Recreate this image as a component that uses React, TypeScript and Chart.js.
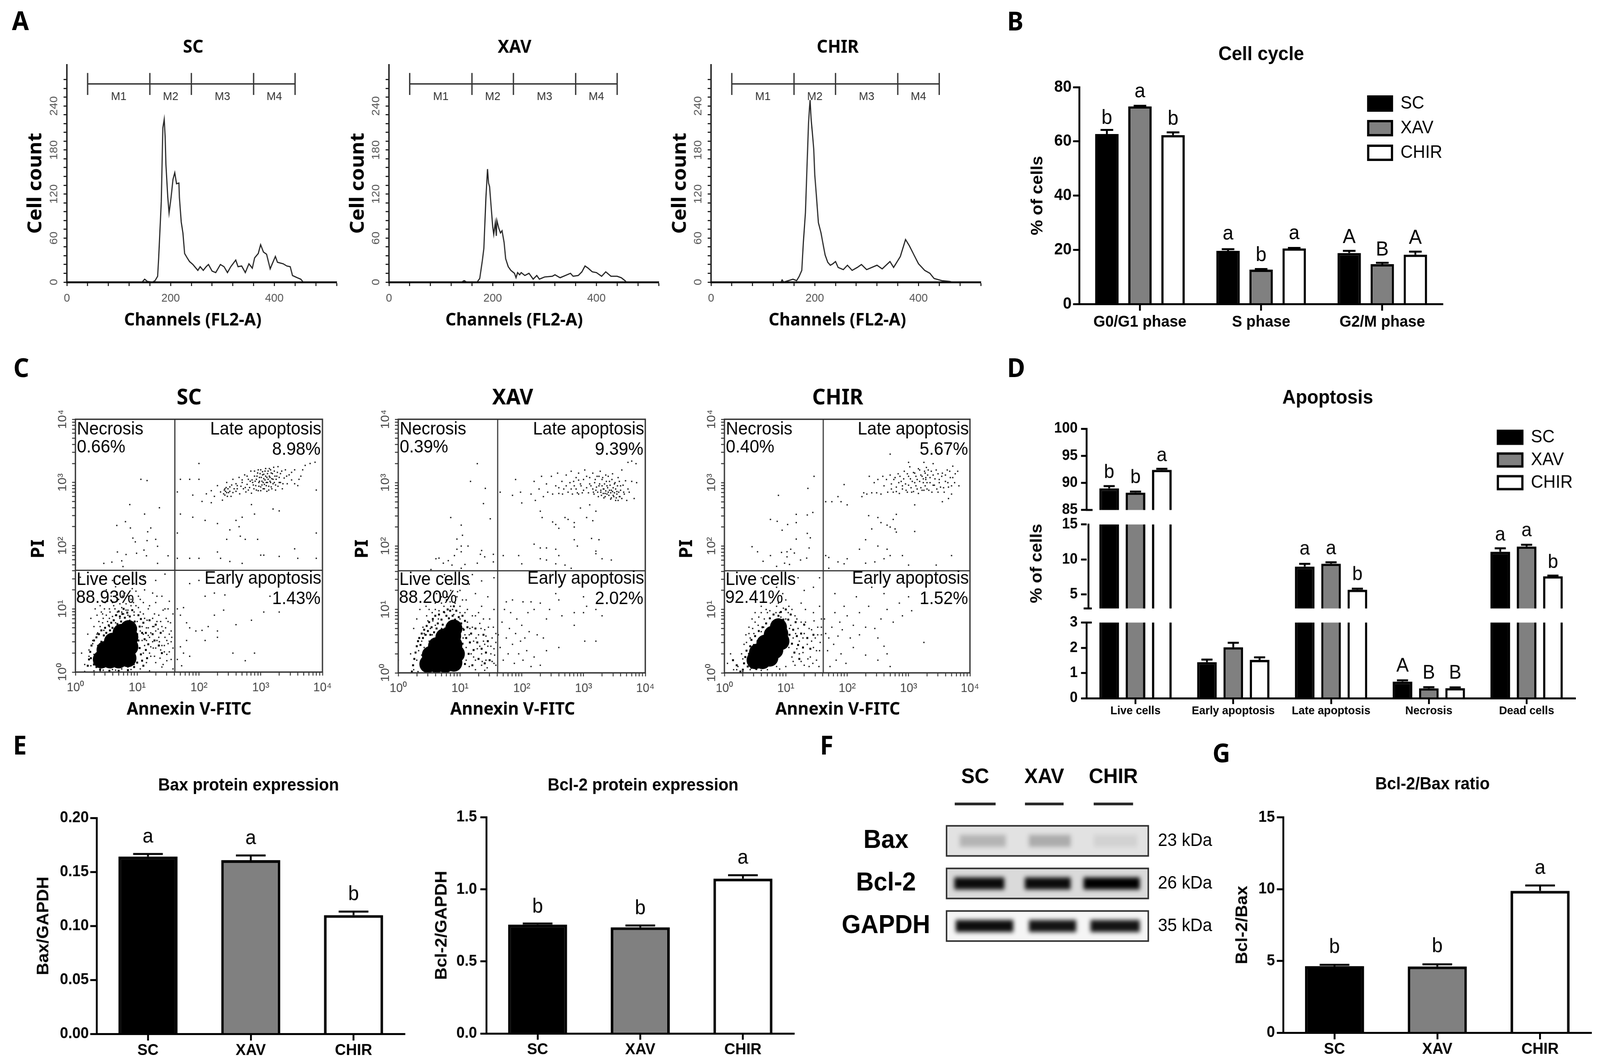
import React, { useEffect, useRef } from 'react';
import { Chart, registerables, LinearScale } from 'chart.js';

// ---------- Panel A: histograms [channel, count, ...]
const histSC = [0,0,145,0,150,4,155,1,165,0,170,2,175,8,177,33,182,110,185,210,187.7,222,189.5,198,191,160,194.5,116,197,94,201,116,204.6,140,208,149,211.4,134,216,135,217,115,220.5,82,223.7,67,227,39,232,33,236.5,28,243,24,252.5,16,257,21,263,16,268.5,21,273,24,280,15,287,13,296,24,303,21,309.6,13,316,21,325.6,30,330,21,337,22,344,13,351,25,357.5,19,362,33,369,39,373.5,51,379,41,385,38,392,18,396,25,402,35,406,27,417,25,424,22,430.6,21,435,9,444,6,451,4,455.7,0,520,0];
const histXAV = [0,0,140,0,145,2,150,0,170,0,175,5,180,29,183,46,185,81,187,116,190,154,192,135,194,130,197,103,200,76,202,65,205,81,207,63,208,84,212,73,215,67,218,70,220,62,222,54,225,32,230,21,235,16,242,12,245,6,248,13,252,10,255,13,262,9,270,12,278,4,285,9,290,4,300,7,315,8,320,10,330,6,340,9,350,12,355,8,365,9,372,14,378,22,384,19,392,14,400,13,410,8,418,14,428,8,440,8,448,6,455,2,458,0,520,0];
const histCHIR = [0,0,135,0,137,3,140,0,158,4,165,2,170,8,175,16,178,54,182,95,185,157,188,217,190,239,191,248,193,222,196,198,198,181,200,146,203,119,207,81,212,67,217,48,220,37,225,27,230,23,235,25,240,28,245,20,255,17,263,23,272,16,282,20,290,24,300,17,310,20,320,23,330,18,345,28,352,20,365,35,375,58,382,50,392,36,400,25,412,16,422,12,430,5,445,2,460,1,465,0,520,0];
const gateEdges = [40, 160, 240, 360, 440];
const gateNames = ['M1', 'M2', 'M3', 'M4'];
const groups = ['SC', 'XAV', 'CHIR'];

// ---------- Panel B
const phases = ['G0/G1 phase', 'S phase', 'G2/M phase'];
const cycleSC = [62.7, 19.6, 18.8];
const cycleXAV = [72.9, 12.7, 14.7];
const cycleCHIR = [62.3, 20.5, 18.2];
const cycleErrSC = [1.5, 0.6, 0.8];
const cycleErrXAV = [0.2, 0.2, 0.5];
const cycleErrCHIR = [1.0, 0.2, 1.1];
const cycleLetSC = ['b', 'a', 'A'];
const cycleLetXAV = ['a', 'b', 'B'];
const cycleLetCHIR = ['b', 'a', 'A'];
const cycleLetAtSC = [66.4, 23.8, 22.5];
const cycleLetAtXAV = [76.3, 15.9, 17.9];
const cycleLetAtCHIR = [66.2, 24, 22.2];

// ---------- Panel C: dots as [log10 annexin, log10 PI, ...]
const quadrantLog = 1.61;
const dotsSC = [1.06,3.05,1.16,3.03,.88,2.65,1.36,2.6,1.12,2.5,.67,2.32,.81,2.38,.89,2.28,1.22,2.28,1.17,2.22,.93,2.12,.97,2.06,1.16,2.08,1.3,2.1,1.33,1.99,.68,1.9,.82,1.86,.99,1.88,1.11,1.93,1.15,1.84,1.5,1.84,.46,1.72,.59,1.74,.75,1.76,.77,1.67,1.33,1.72,
2.12,2.82,2.2,2.87,2.25,2.78,2.3,2.95,2.35,2.85,2.38,2.72,2.42,2.9,2.45,3,2.48,2.84,2.5,2.93,2.52,2.78,2.55,3.05,2.57,2.9,2.6,2.86,2.62,2.95,2.65,3.08,2.66,2.82,2.7,3,2.72,2.9,2.74,3.12,2.76,2.85,2.78,2.97,2.8,3.05,2.82,2.92,2.84,3.18,2.85,2.83,2.87,3,2.89,2.9,2.9,3.1,2.92,2.95,2.93,3.05,2.95,3.15,2.96,2.87,2.97,3,2.98,3.08,3,2.93,3,3.2,3.02,3.02,3.03,3.12,3.04,2.9,3.05,3.06,3.06,2.97,3.07,3.18,3.08,3.1,3.09,3,3.1,2.86,3.11,3.14,3.12,3.05,3.13,2.94,3.14,3.22,3.15,3.08,3.16,3,3.17,3.15,3.18,2.9,3.2,3.05,3.22,3.18,3.24,2.96,3.26,3.1,3.28,3.25,3.3,3,3.32,3.14,3.35,2.9,3.38,3.07,3.4,3.2,3.43,2.98,3.46,3.12,3.5,3.04,3.55,3.2,3.6,2.95,3.65,3.1,3.72,3.27,3.8,3.3,3.88,3.32,3.9,2.88,
1.65,2.85,1.7,3.05,1.85,3.05,1.9,2.8,2,3.05,2,3.3,2.05,2.7,2.2,2.68,2.3,2.35,2.5,2.25,2.45,2.1,2.6,2.4,2.65,2.3,2.67,2.15,2.7,2.45,2.75,2.1,2.9,2.5,2.85,2.65,2.95,2.1,3,1.85,3.05,1.85,3.3,1.83,3.55,1.95,3.6,1.8,3.9,2.2,2.3,1.9,2.35,1.8,2.5,1.75,1.65,2.2,1.7,2.5,1.9,2.45,2.1,2.4,3.2,2.58,3.3,2.55,1.65,1.8,1.85,1.8,2,1.8,2.7,1.72,3.9,1.8,
1.65,1,1.7,.9,1.75,1.02,1.8,.78,1.85,.7,1.95,.65,2.05,.66,2.15,.72,2.3,.65,2.1,.5,1.7,.4,1.75,.3,1.85,.25,1.65,.2,1.72,.1,1.8,.5,2.1,1.2,2.25,.9,2.25,1.25,2.42,1.22,2.4,.98,2.3,.55,2.55,.3,2.6,.75,2.85,.82,2.9,.3,2.75,.18,3.05,.95,3.3,.95,3.15,1.2,2,1.45,1.85,1.4,
.1,.3,.15,.12,.2,.6,.22,.35,.25,.1,.25,.85,.28,.5,.3,.72,.32,1,.35,.9,.36,.62,.38,.8,.4,1.05,.42,.95,.44,.78,.46,.66,.48,1.1,.5,.9,.5,1.3,.52,.8,.55,1,.55,.72,.58,1.2,.6,.88,.62,1.05,.65,.78,.65,1.35,.68,.95,.7,1.15,.72,.85,.75,1.02,.78,.92,.8,1.25,.82,1.08,.85,.98,.88,.82,.9,1.15,.92,1.32,.95,.9,.98,1.05,1,.8,1.02,1.2,1.05,.95,1.05,.65,1.08,.5,1.1,1.1,1.1,.3,1.12,.85,1.15,.7,1.15,.15,1.18,1,1.2,.55,1.22,.4,1.25,.85,1.25,1.25,1.28,.25,1.3,.65,1.3,1.1,1.32,.5,1.35,.9,1.38,.35,1.4,.72,1.4,1.2,1.42,.12,1.45,.55,1.45,1,1.48,.28,1.5,.8,1.5,.45,1.52,1.12,1.55,.65,1.55,.2,1.58,.38,1.58,.92,.6,1.45,.72,1.52,.95,1.4,1.1,1.5,1.3,1.45,1.45,1.55,.05,1.2,.08,1.5,.95,.12,1.05,.05,.85,.08,.75,.05,.6,.04,.45,.03,.3,.02,.15,.01,
1.1,.6,1.12,.42,1.15,.5,1.18,.7,1.2,.3,1.22,.62,1.25,.48,1.27,.72,1.3,.38,1.32,.8,1.35,.55,1.37,.22,1.4,.42,1.42,.65,1.44,.32,1.47,.85,1.48,.5,1.52,.6,1.55,.48,.95,.95,.85,.9,.75,.95,.65,.9,.55,.85,.45,.85,.35,.6,.28,.45,.22,.25,.3,.15,.3,.28];
const moreSC = [2.86,3.04,2.88,2.96,2.9,3.18,2.91,3.02,2.93,2.88,2.94,3.1,2.96,3.2,2.97,2.94,2.98,3.02,2.99,3.14,3,2.87,3.01,3.08,3.02,2.96,3.03,3.17,3.04,3,3.05,3.13,3.06,2.9,3.07,3.04,3.08,3.22,3.09,2.95,3.1,3.08,3.11,3,3.12,3.18,3.13,2.88,3.14,3.1,3.15,3.02,3.16,3.2,3.17,2.93,3.18,3.06,3.19,3.14,3.2,2.98,3.21,3.24,3.22,3,3.23,3.1,3.24,2.88,3.25,3.05,3.27,3.16,3.28,2.94,3.3,3.08,3.32,3,3.34,3.18,3.36,2.98,2.4,2.82,2.41,2.88,2.42,2.8,2.43,2.86,2.44,2.92,2.45,2.84,2.46,2.78,2.47,2.9,2.5,2.86,2.53,2.96,2.55,2.84,2.6,2.98,2.62,2.9,2.68,2.94,2.7,3.04,2.75,2.92,2.78,3.1,2.8,2.88,2.83,3.02,3.42,3.1,3.5,3.16,3.55,2.98,3.62,3.05,3.68,3.2,
.33,.18,.36,.42,.4,.72,.44,.92,.47,1,.52,1.12,.56,.95,.6,1.1,.64,1,.68,1.22,.72,1.08,.76,1.2,.82,.98,.86,1.2,.9,1.05,.94,1.1,.98,1.28,1.02,1.02,1.05,1.15,1.08,.72,1.1,.92,1.12,1.3,1.16,.82,1.18,.58,1.2,1.05,1.22,.25,1.25,.72,1.26,.38,1.28,.92,1.3,.15,1.32,1.2,1.34,.68,1.36,.48,1.38,.8,1.4,.08,1.42,.98,1.44,.42,1.46,.7,1.48,.18,1.5,1,1.52,.32,1.54,.78,1.56,.55,.4,.02,.65,.03,.9,.04,1.2,.02,1.58,.05];
const haloSC = [.2,.1,.22,.2,.24,.32,.26,.42,.3,.5,.34,.08,.34,.55,.38,.6,.42,.48,.42,.66,.46,.58,.48,.7,.5,.62,.52,.5,.54,.74,.56,.66,.58,.78,.6,.7,.62,.82,.64,.62,.66,.9,.68,.76,.7,.96,.72,.88,.74,.8,.76,.92,.78,1,.8,.86,.84,.94,.88,.88,.92,.98,.96,.8,.98,.7,1,.6,1.02,.5,1.02,.9,1.04,.38,1.04,.72,1.06,.28,1.06,.84,1.08,.18,1.08,.62,1.1,.78,1.12,.52,1.14,.35,1.14,.62,1.16,.22,1.18,.44,1.2,.82,.95,.08,.85,.03,.7,.02,.55,.02,.4,.04,.3,.12,.25,.22,1,.15,1.1,.1,1.25,.6,1.28,.5,1.3,.75,1.35,.42,1.38,.62,1.4,.3];
const coreSC = [.42,.2,.56,.2,.7,.2,.85,.22,.48,.35,.62,.35,.76,.36,.88,.4,.6,.48,.74,.5,.88,.55,.74,.62,.86,.68];
const dotsXAV = [1.28,3.3,1.17,3.02,1.41,2.91,1.38,2.67,.85,2.45,1.49,2.43,1.02,2.33,.95,2.11,1.04,2.17,1.13,2,1.02,2,.95,1.95,1.02,1.91,.91,1.85,1.35,1.93,1.33,1.87,1.4,1.83,1.54,1.87,.66,1.81,.61,1.8,.81,1.77,.73,1.73,.87,1.7,1.08,1.71,1.28,1.73,1.54,1.75,.53,1.63,1.02,1.65,
2.15,2.82,2.2,3.02,2.22,2.72,2.28,2.9,2.32,3.1,2.35,2.78,2.4,2.98,2.42,2.85,2.48,3.1,2.5,2.82,2.55,2.95,2.58,3.15,2.6,2.83,2.65,3.02,2.68,2.9,2.72,3.12,2.75,2.85,2.78,3,2.8,3.18,2.82,2.82,2.85,2.95,2.88,3.08,2.9,2.84,2.92,3.15,2.95,2.98,2.98,2.84,3,3.05,3.02,3.2,3.05,2.92,3.08,2.84,3.1,3.08,3.12,2.95,3.15,3.15,3.16,2.85,3.18,3,3.2,2.88,3.22,3.1,3.24,2.78,3.25,2.95,3.27,3.18,3.28,2.85,3.3,3.05,3.32,2.9,3.33,2.76,3.35,2.83,3.36,3.12,3.38,2.95,3.4,2.85,3.42,3.02,3.44,2.74,3.45,2.88,3.47,3.14,3.48,2.8,3.5,2.98,3.52,2.72,3.54,2.86,3.56,3.08,3.58,2.78,3.6,2.95,3.62,3.2,3.65,2.85,3.68,3.03,3.72,2.9,3.78,3.02,3.82,2.75,3.86,3,3.72,3.32,3.78,3.34,3.85,3.3,
1.65,2.85,1.9,3.05,1.85,2.8,1.98,2.85,2,2.68,2.3,2.55,2.33,2.45,2.5,2.38,2.55,2.34,2.6,2.28,2.7,2.45,2.75,2.42,2.85,2.37,2.85,2.3,2.95,2.6,3.05,2.45,3.1,2.65,3.15,2.4,3.2,2.55,2.2,2.03,2.3,1.97,2.4,1.97,2.55,1.95,2.6,1.85,2.85,2.1,2.9,2,3.13,2.12,3.2,1.88,3.25,2.1,3.2,1.92,3.3,1.8,3.45,1.78,2,1.72,2.3,1.8,2.4,1.78,2.55,1.72,2.7,1.7,2.8,1.65,1.95,1.85,1.7,1.85,
1.62,.6,1.65,.4,1.68,.8,1.7,.2,1.72,1,1.75,.55,1.78,.3,1.8,.7,1.82,.95,1.85,.45,1.88,.15,1.9,.62,1.92,.85,1.95,.3,1.98,.5,2,.75,2.02,.2,2.05,.55,2.08,.35,2.1,.95,2.12,.65,2.15,.1,2.2,1,2.25,.6,2.3,.12,2.2,.25,2.35,.55,2.4,.85,2.45,1,2.4,.35,2.3,1.1,2.15,1.12,2.02,1.12,1.75,1.12,1.85,1.15,2.6,.4,2.6,1.15,2.65,.9,2.85,.95,2.85,.75,3,1.2,3,.95,3.02,.5,3.05,1.05,3.2,1,3.3,.9,3.2,.5,2.55,1.25,
.25,.05,.3,.2,.33,.35,.36,.1,.38,.5,.4,.72,.42,.4,.45,.6,.48,.82,.5,.5,.52,.7,.55,.95,.55,.6,.6,.75,.6,1,.65,.85,.7,1.1,.7,.7,.75,.95,.8,1.2,.82,.8,.85,1.05,.9,.92,.95,1.2,1,.85,1,1.05,1.05,.7,1.05,.55,1.08,.95,1.1,.4,1.1,.2,1.12,.8,1.15,.6,1.15,.1,1.18,.3,1.2,.72,1.22,.5,1.25,.9,1.25,.2,1.28,.38,1.3,.6,1.32,.78,1.35,.3,1.35,.12,1.38,.5,1.4,.68,1.42,.2,1.45,.42,1.48,.85,1.5,.3,1.52,.55,1.55,.15,1.55,.38,1.58,.62,.3,.85,.35,1,.25,.7,.2,.3,0,.2,.45,1.05,.62,1.25,.85,1.3,.9,1.4,1,1.3,1.1,1.15,1.15,1.4,1.25,1.25,1.35,1.05,1.35,1.45,1.45,1.2,1.55,1,1.55,1.5,1.2,1.55,.75,1.55,.6,.05,.75,.05,.9,.05];
const moreXAV = [3.15,2.9,3.17,2.82,3.19,3.05,3.21,2.93,3.23,2.85,3.25,3.1,3.26,2.98,3.28,2.88,3.29,2.8,3.3,2.95,3.31,3.08,3.32,2.83,3.33,2.9,3.34,2.98,3.35,2.78,3.36,2.87,3.37,3.02,3.38,2.82,3.39,2.92,3.4,3.1,3.41,2.8,3.42,2.88,3.43,2.96,3.44,2.84,3.45,2.76,3.46,3.05,3.47,2.86,3.48,2.92,3.49,2.78,3.5,2.84,3.51,3,3.52,2.9,3.53,2.76,3.54,2.82,3.55,2.95,3.56,2.72,3.57,2.85,3.58,3.02,3.59,2.78,3.6,2.88,3.62,2.75,3.64,2.96,3.66,2.82,3.7,2.72,3.74,2.85,3,2.88,2.96,2.95,2.92,3.04,2.88,2.9,2.84,3.02,2.8,2.9,2.72,2.95,2.66,2.82,2.6,2.92,3.05,3.1,3.1,2.98,2.92,2.82,
.32,.02,.38,.28,.42,.62,.46,.9,.5,1,.56,.82,.6,1.1,.66,.98,.7,1.2,.74,1.05,.78,1.15,.84,1.12,.88,1,.92,1.1,.96,1.28,1,.95,1.04,1.15,1.08,.6,1.12,1,1.16,.7,1.2,.9,1.22,.25,1.26,.55,1.3,.95,1.32,.42,1.34,.7,1.36,.18,1.38,.85,1.4,.45,1.42,.58,1.44,.08,1.46,.72,1.5,.42,1.52,.18,1.54,.72,1.56,.28,1.58,.48,1.58,.12,1.25,.05,1.4,.04,.5,.02];
const haloXAV = [.22,.02,.24,.12,.26,.22,.28,.32,.3,.42,.32,.5,.34,.55,.36,.44,.38,.62,.4,.55,.42,.68,.44,.6,.46,.74,.48,.66,.5,.8,.52,.6,.54,.72,.56,.85,.58,.64,.6,.9,.62,.7,.64,.78,.66,.92,.68,.6,.7,.84,.72,.76,.74,.96,.76,.7,.78,.9,.8,1,.82,.86,.84,.98,.86,.78,.88,.9,.9,1.05,.92,.84,.94,.98,.96,.7,.98,.88,1,.6,1.02,.78,1.04,.46,1.04,.9,1.06,.3,1.06,.68,1.08,.14,1.08,.82,1.1,.55,1.12,.72,1.14,.3,1.16,.48,1.18,.62,1.2,.12,1.22,.36,1.25,.7,1.28,.48,1.3,.22,1.35,.38,1.38,.6,1.4,.15,1.42,.32,1.45,.5,1.48,.2];
const coreXAV = [.48,.14,.62,.14,.76,.14,.9,.16,.52,.28,.66,.28,.8,.28,.94,.3,.62,.42,.76,.42,.9,.44,.74,.56,.88,.58,.9,.7];
const dotsCHIR = [1.46,3.1,1.36,2.91,.88,2.8,1.44,2.53,1.35,2.49,1.17,2.5,.75,2.42,.86,2.39,1.17,2.37,1.03,2.34,.94,2.25,1.35,2.2,1.4,2.13,1.17,2.11,.45,1.99,1.38,1.97,.54,1.91,1.08,1.95,1.02,1.91,.93,1.9,1.14,1.89,.75,1.85,1.02,1.83,1.34,1.81,1.24,1.78,.63,1.76,.98,1.73,1.06,1.71,.85,1.68,
2.24,2.78,2.27,2.84,2.32,2.82,2.36,3.1,2.4,2.84,2.44,3,2.48,2.84,2.5,3.05,2.55,2.82,2.58,3.1,2.6,2.95,2.64,3.05,2.66,2.85,2.7,3.12,2.72,2.98,2.75,2.85,2.78,3.08,2.8,2.93,2.83,3.14,2.85,2.83,2.88,3.02,2.9,2.9,2.93,3.18,2.95,2.98,2.98,2.85,3,3.1,3.02,3.25,3.04,2.92,3.06,3.02,3.08,2.86,3.1,3.15,3.12,2.95,3.14,3.05,3.16,2.83,3.18,3.2,3.2,2.92,3.22,3.1,3.24,3,3.25,2.88,3.27,3.15,3.28,3.05,3.3,2.9,3.32,3.2,3.35,3,3.38,2.85,3.4,3.12,3.42,2.96,3.45,3.2,3.48,2.85,3.5,3.05,3.52,2.93,3.55,3.15,3.58,2.85,3.6,3.02,3.63,3.2,3.65,2.93,3.68,3.08,3.7,2.82,3.72,3.26,3.75,3,3.8,3.18,3.82,2.95,3.65,2.75,3.55,2.7,3.4,3.3,3.25,3.32,3,3.32,2.7,3.45,
1.65,2.7,1.75,2.7,1.85,2.78,1.9,2.7,2,2.65,1.95,2.97,2.35,2.48,2.4,2.27,2.5,2.45,2.55,2.37,2.65,2.33,2.7,2.3,2.75,2.42,2.8,2.5,2.8,2.22,2.78,2.27,3.1,2.65,3.1,2.23,2.3,2.1,2.2,1.95,2.5,2,2.65,1.95,2.7,1.85,2.6,1.8,2.45,1.75,2.3,1.73,2,1.8,1.95,1.72,1.85,1.75,1.7,1.82,1.65,1.85,1.7,1.65,2.9,1.85,3,1.7,3.7,1.85,3.45,1.7,
1.63,.85,1.65,.62,1.68,.35,1.7,.55,1.72,.1,1.75,.72,1.78,.45,1.8,.95,1.82,.2,1.85,.58,1.88,.8,1.9,.3,1.92,.68,1.95,1.05,1.98,.15,2,.9,2.05,.55,2.1,.75,2.15,1.2,2.2,.6,2.1,.4,2.2,.95,2.3,.72,2.3,.28,2.35,1.05,2.45,.7,2.5,.55,2.5,.2,2.55,.85,2.6,.42,2.65,.3,2.75,.8,2.7,.1,2.9,.9,2.85,1.1,3.05,.98,3,1.2,3.25,.48,2.65,1,2.6,1.25,1.8,1.25,2.4,1.35,
.05,.15,.1,.3,.15,.05,.22,.1,.28,.3,.32,.45,.35,.6,.38,.18,.4,.72,.42,.55,.45,.85,.48,.62,.5,.95,.55,.75,.6,.65,.6,1.05,.65,.85,.7,.95,.7,.62,.75,1.1,.78,.8,.85,1.05,.9,.95,.95,1.25,1,.85,1.02,.62,1.05,1.05,1.05,.4,1.08,.75,1.1,.25,1.12,.55,1.15,.9,1.15,.12,1.18,.38,1.2,.7,1.22,.5,1.25,.18,1.25,1.1,1.28,.32,1.3,.62,1.32,.8,1.35,.45,1.38,.1,1.4,.25,1.42,.68,1.45,.95,1.45,.4,1.48,.55,1.5,.2,1.52,.72,1.55,.35,1.55,1.05,1.58,.6,1.58,.85,.7,.05,.85,.1,.55,.08,.42,.05,.3,.02,1.3,1.3,1.45,1.35,1.55,1.5,1.2,1.5,.85,1.35,.5,1.15,.6,1.5,1,1.5];
const moreCHIR = [2.72,2.9,2.76,3.05,2.8,2.86,2.84,3,2.86,3.1,2.9,2.95,2.92,3.06,2.96,2.88,2.98,3.14,3,2.96,3.03,3.06,3.05,2.85,3.08,3.16,3.1,3,3.12,3.1,3.14,2.9,3.16,3.22,3.18,3.02,3.2,3.12,3.22,2.88,3.24,3.06,3.26,3.18,3.27,2.95,3.28,3.08,3.29,3.24,3.3,3,3.31,3.12,3.33,2.88,3.35,3.08,3.37,3.18,3.4,2.96,3.43,3.06,3.46,2.9,3.48,3.14,3.5,3,3.54,3.1,3.57,2.92,3.6,3.12,3.64,3,3.67,3.18,3.7,2.95,3.72,3.08,3.76,3.14,
.2,.05,.3,.22,.36,.48,.4,.62,.46,.7,.5,.8,.56,.88,.6,.95,.64,.72,.68,1,.74,.98,.8,1.15,.84,.95,.88,1.1,.92,.88,.96,1.02,1,1.15,1.04,.95,1.06,.7,1.1,1,1.12,.18,1.16,.62,1.18,.85,1.22,.3,1.25,.8,1.28,.55,1.3,.12,1.32,1,1.36,.22,1.38,.7,1.42,.5,1.44,.15,1.46,.82,1.5,.35,1.52,.6,1.54,.1,1.56,.48,1.58,.72,.9,.06,1,.1,.6,.04];
const haloCHIR = [.3,.05,.32,.15,.34,.25,.36,.35,.38,.1,.4,.3,.42,.42,.44,.08,.44,.52,.48,.44,.5,.58,.52,.06,.54,.5,.56,.66,.58,.1,.6,.56,.62,.72,.64,.12,.66,.6,.68,.78,.7,.14,.72,.68,.74,.86,.76,.16,.78,.74,.8,.92,.82,.18,.84,.82,.86,.24,.88,.9,.9,.3,.92,.96,.94,.36,.96,.84,.98,.4,1,.72,1,1,1.02,.5,1.04,.84,1.06,.6,1.08,.92,1.1,.46,1.12,.68,1.14,.32,1.16,.8,1.18,.58,1.2,.44,1.22,.22,1.25,.62,1.28,.4,1.3,.76,1.35,.55,1.4,.38,1.45,.6,.26,.02,.2,.12,.14,.2];
const coreCHIR = [.5,.2,.62,.2,.74,.24,.54,.32,.68,.34,.82,.36,.66,.46,.8,.48,.92,.5,.78,.6,.9,.62,.88,.72];
const quadSC = ['Necrosis', '0.66%', 'Late apoptosis', '8.98%', 'Live cells', '88.93%', 'Early apoptosis', '1.43%'];
const quadXAV = ['Necrosis', '0.39%', 'Late apoptosis', '9.39%', 'Live cells', '88.20%', 'Early apoptosis', '2.02%'];
const quadCHIR = ['Necrosis', '0.40%', 'Late apoptosis', '5.67%', 'Live cells', '92.41%', 'Early apoptosis', '1.52%'];
const logMajor: Record<number, string> = { 1: '10⁰', 10: '10¹', 100: '10²', 1000: '10³', 10000: '10⁴' };
const logTicks = [1,2,3,4,5,6,7,8,9,10,20,30,40,50,60,70,80,90,100,200,300,400,500,600,700,800,900,1000,2000,3000,4000,5000,6000,7000,8000,9000,10000];

// ---------- Panel D
const apoCats = ['Live cells', 'Early apoptosis', 'Late apoptosis', 'Necrosis', 'Dead cells'];
const apoSC = [89.0, 1.43, 8.98, 0.66, 11.1];
const apoXAV = [88.2, 2.02, 9.39, 0.39, 11.85];
const apoCHIR = [92.41, 1.52, 5.67, 0.40, 7.6];
const apoErrSC = [0.4, 0.1, 0.4, 0.05, 0.5];
const apoErrXAV = [0.2, 0.18, 0.2, 0.05, 0.25];
const apoErrCHIR = [0.2, 0.1, 0.15, 0.03, 0.1];
const apoLetSC = ['b', '', 'a', 'A', 'a'];
const apoLetXAV = ['b', '', 'a', 'B', 'a'];
const apoLetCHIR = ['a', '', 'b', 'B', 'b'];
const apoLetAtSC = [90.9, 0, 10.66, 1.05, 12.7];
const apoLetAtXAV = [90.0, 0, 10.75, 0.77, 13.3];
const apoLetAtCHIR = [94.0, 0, 7.05, 0.77, 8.8];
const apoTicks = [0, 1, 2, 3, 5, 10, 15, 85, 90, 95, 100];
const brokenSegments = [
  { from: 0, to: 3, f0: 0, f1: 0.2807 },
  { from: 3, to: 15, f0: 0.333, f1: 0.6447 },
  { from: 15, to: 85, f0: 0.6447, f1: 0.6984 },
  { from: 85, to: 100, f0: 0.6984, f1: 1 },
];

// ---------- Panels E, G
const baxValues = [0.1642, 0.1609, 0.110];
const baxErr = [0.0024, 0.0043, 0.0032];
const baxLetters = ['a', 'a', 'b'];
const baxLetterAt = [0.1772, 0.1756, 0.1239];
const bclValues = [0.755, 0.736, 1.074];
const bclErr = [0.008, 0.013, 0.024];
const bclLetters = ['b', 'b', 'a'];
const bclLetterAt = [0.839, 0.828, 1.178];
const ratioValues = [4.63, 4.61, 9.88];
const ratioErr = [0.1, 0.15, 0.37];
const ratioLetters = ['b', 'b', 'a'];
const ratioLetterAt = [5.55, 5.6, 11.07];

// ---------- Panel F: band extents in lane units, [start, end] per protein row
const blotRows = ['Bax', 'Bcl-2', 'GAPDH'];
const blotKda = ['23 kDa', '26 kDa', '35 kDa'];
const bandSC = [[-0.22, 0.44], [-0.3, 0.42], [-0.28, 0.55]];
const bandXAV = [[0.78, 1.38], [0.72, 1.38], [0.78, 1.46]];
const bandCHIR = [[1.72, 2.34], [1.57, 2.38], [1.67, 2.38]];
const bandAlphaSC = [0.2, 0.95, 0.95];
const bandAlphaXAV = [0.24, 0.95, 0.92];
const bandAlphaCHIR = [0.07, 1, 0.92];
const blotBackground = ['#e2e2e2', '#dadada', '#f5f5f5'];

// ---------- helpers
const LS = '"Liberation Sans", Arial, sans-serif';
const NS = '"Noto Sans", sans-serif';
const GRAYS = ['#000000', '#808080', '#ffffff'];
const pairs = (a: number[]) => { const o: any[] = []; for (let i = 0; i < a.length; i += 2) o.push({ x: a[i], y: a[i + 1] }); return o; };
const logPairs = (a: number[]) => pairs(a).map((p) => ({ x: Math.pow(10, p.x), y: Math.max(1, Math.pow(10, p.y)) }));

class BrokenScale extends (LinearScale as any) {
  static id = 'broken';
  static defaults = {};
  getPixelForValue(v: number) {
    let f = 1;
    for (const s of brokenSegments) {
      if (v <= s.to) { f = s.f0 + ((v - s.from) / (s.to - s.from)) * (s.f1 - s.f0); break; }
    }
    return (this as any).bottom - f * ((this as any).bottom - (this as any).top);
  }
}
Chart.register(...registerables, BrokenScale as any);

type TextItem = { t: string; x: number; y: number; font: string; color?: string; align?: CanvasTextAlign; rot?: boolean };
const captions = (ox: number, oy: number, items: TextItem[]) => ({
  id: 'captions',
  afterDraw(chart: any) {
    const c = chart.ctx;
    for (const it of items) {
      c.save();
      c.translate(it.x - ox, it.y - oy);
      if (it.rot) c.rotate(-Math.PI / 2);
      c.font = it.font; c.fillStyle = it.color || '#000'; c.textAlign = it.align || 'center'; c.textBaseline = 'middle';
      c.fillText(it.t, 0, 0);
      c.restore();
    }
  },
});

const barMarks = (capHalf: number, font: string) => ({
  id: 'barMarks',
  afterDatasetsDraw(chart: any) {
    const c = chart.ctx; const y = chart.scales.y;
    chart.data.datasets.forEach((ds: any, i: number) => {
      const meta = chart.getDatasetMeta(i);
      ds.data.forEach((v: number, j: number) => {
        const bar = meta.data[j]; const p0 = y.getPixelForValue(v); const p1 = y.getPixelForValue(v + ds.errs[j]);
        c.save();
        c.strokeStyle = '#000'; c.lineWidth = 5;
        c.beginPath(); c.moveTo(bar.x, p0); c.lineTo(bar.x, p1); c.moveTo(bar.x - capHalf, p1); c.lineTo(bar.x + capHalf, p1); c.stroke();
        if (ds.letters[j]) {
          c.font = font; c.fillStyle = '#000'; c.textAlign = 'center'; c.textBaseline = 'alphabetic';
          c.fillText(ds.letters[j], bar.x, y.getPixelForValue(ds.letterAt[j]));
        }
        c.restore();
      });
    });
  },
});

const legendPlace = (x: number, y: number, pad: number) => ({
  id: 'legendPlace',
  afterLayout(chart: any) { chart.legend.left = x - pad; chart.legend.top = y - pad; chart.legend.bottom = y + 400; chart.legend.right = x + 400; },
});

const brokenAxis = () => ({
  id: 'brokenAxis',
  afterDatasetsDraw(chart: any) {
    const c = chart.ctx; const y = chart.scales.y; const a = chart.chartArea;
    const midBottom = y.bottom - 0.333 * (y.bottom - y.top);
    c.save();
    c.fillStyle = '#fff';
    c.fillRect(a.left + 3, y.getPixelForValue(85), a.right - a.left, y.getPixelForValue(15) - y.getPixelForValue(85));
    c.fillRect(a.left + 3, midBottom, a.right - a.left, y.getPixelForValue(3) - midBottom);
    c.strokeStyle = '#000'; c.lineWidth = 5;
    const seg = (x: number, p0: number, p1: number) => { c.beginPath(); c.moveTo(x, p0); c.lineTo(x, p1); c.stroke(); };
    seg(a.left, y.getPixelForValue(100) - 2, y.getPixelForValue(85) + 2);
    seg(a.left + 5, y.getPixelForValue(15) - 2, midBottom + 2);
    seg(a.left, y.getPixelForValue(3) - 2, y.getPixelForValue(0));
    c.beginPath();
    c.moveTo(a.left - 2, y.getPixelForValue(85)); c.lineTo(a.left + 16, y.getPixelForValue(85));
    c.moveTo(a.left - 8, midBottom); c.lineTo(a.left + 14, midBottom);
    c.moveTo(a.left - 2, y.getPixelForValue(3)); c.lineTo(a.left + 14, y.getPixelForValue(3));
    c.stroke();
    c.restore();
  },
});

function barSpec(o: any) {
  const cr = 2 * o.titleX - o.cl;
  const ct = o.titleY - o.titleSize / 2;
  const cb = o.plot.b + 130;
  const plugins: any[] = [];
  if (o.broken) plugins.push(brokenAxis());
  plugins.push(barMarks(o.capHalf, `${o.letterSize}px ${LS}`));
  if (o.legend) plugins.push(legendPlace(o.legend.x - o.cl, o.legend.y - ct, o.legend.pad));
  return {
    l: o.cl, t: ct, w: cr - o.cl, h: cb - ct,
    make: () => ({
      type: 'bar',
      data: { labels: o.categories, datasets: o.datasets },
      options: {
        animation: false, responsive: false, devicePixelRatio: 1,
        datasets: { bar: { categoryPercentage: o.catPct, barPercentage: o.barPct, borderSkipped: 'bottom', borderWidth: o.bw, borderColor: '#000' } },
        plugins: {
          tooltip: { enabled: false },
          title: { display: true, text: o.title, color: '#000', font: { family: LS, size: o.titleSize, weight: 'bold', lineHeight: 1 }, padding: { top: 0, bottom: o.plot.t - ct - o.titleSize } },
          legend: o.legend ? {
            display: true, position: 'chartArea', align: 'start',
            labels: { color: '#000', boxWidth: o.legend.box[0], boxHeight: o.legend.box[1], padding: o.legend.pad, font: { family: LS, size: 46 } },
          } : { display: false },
        },
        scales: {
          x: {
            type: 'category', offset: true,
            afterFit: (s: any) => { s.height = cb - o.plot.b; },
            border: { width: 5, color: '#000', z: 1 },
            grid: { offset: false, drawOnChartArea: false, tickLength: o.tickLen, tickWidth: 5, tickColor: '#000' },
            ticks: { autoSkip: false, maxRotation: 0, color: '#000', padding: o.xPad, font: { family: LS, size: o.catSize, weight: 'bold' } },
          },
          y: {
            type: o.broken ? 'broken' : 'linear', min: o.yMin, max: o.yMax,
            afterFit: (s: any) => { s.width = o.plot.l - o.cl; },
            afterBuildTicks: (s: any) => { s.ticks = o.yTicks.map((value: number) => ({ value })); },
            border: { display: !o.broken, width: 5, color: '#000' },
            grid: { drawOnChartArea: false, tickLength: o.tickLen, tickWidth: 5, tickColor: '#000' },
            ticks: { autoSkip: false, color: '#000', padding: o.yPad, font: { family: LS, size: o.tickSize, weight: 'bold' }, callback: (v: number) => (o.decimals ? v.toFixed(o.decimals) : String(v)) },
            title: { display: true, text: o.yTitle, color: '#000', padding: { top: o.yTitleX - o.cl - 26.4, bottom: 0 }, font: { family: LS, size: 44, weight: 'bold' } },
          },
          spacer: {
            type: 'linear', position: 'right',
            afterFit: (s: any) => { s.width = cr - o.plot.r; },
            grid: { display: false }, border: { display: false }, ticks: { display: false },
          },
        },
      },
      plugins,
    }),
  };
}

const series = (label: string, i: number, data: number[], errs: number[], letters: string[], letterAt: number[]) => ({
  label, data, errs, letters, letterAt, backgroundColor: GRAYS[i], borderColor: '#000',
});
const single = (data: number[], errs: number[], letters: string[], letterAt: number[]) => ({
  label: 'value', data, errs, letters, letterAt, backgroundColor: GRAYS, borderColor: '#000',
});

function histSpec(name: string, hist: number[], ax: number, titleX: number, yTitleX: number) {
  const top = 166, bottom = 722, right = ax + 726;
  const cl = ax - 120, ct = 80, cb = 860, cr = ax + 780;
  const gates = {
    id: 'gates',
    afterDatasetsDraw(chart: any) {
      const c = chart.ctx; const x = chart.scales.x; const y = chart.scales.y;
      const py = y.getPixelForValue(270), p0 = y.getPixelForValue(285), p1 = y.getPixelForValue(255);
      c.save(); c.strokeStyle = '#333'; c.lineWidth = 3.5;
      c.beginPath(); c.moveTo(x.getPixelForValue(gateEdges[0]), py); c.lineTo(x.getPixelForValue(gateEdges[4]), py);
      gateEdges.forEach((g) => { const px = x.getPixelForValue(g); c.moveTo(px, p0); c.lineTo(px, p1); });
      c.stroke();
      c.font = `30px ${LS}`; c.fillStyle = '#333'; c.textAlign = 'center'; c.textBaseline = 'middle';
      gateNames.forEach((m, i) => c.fillText(m, x.getPixelForValue((gateEdges[i] + gateEdges[i + 1]) / 2), p1 + 5));
      c.restore();
    },
  };
  const text: TextItem[] = [
    { t: name, x: titleX, y: 122, font: `bold 46px ${NS}` },
    { t: 'Channels (FL2-A)', x: titleX - 1, y: 820, font: `bold 45px ${NS}` },
    { t: 'Cell count', x: yTitleX, y: 469, font: `bold 52px ${NS}`, rot: true },
  ];
  return {
    l: cl, t: ct, w: cr - cl, h: cb - ct,
    make: () => ({
      type: 'line',
      data: { datasets: [{ label: name, data: pairs(hist), borderColor: '#222', borderWidth: 3, pointRadius: 0, tension: 0, fill: false }] },
      options: {
        animation: false, responsive: false, devicePixelRatio: 1,
        layout: { padding: { top: top - ct, right: cr - right } },
        plugins: { legend: { display: false }, tooltip: { enabled: false } },
        scales: {
          x: {
            type: 'linear', min: 0, max: 520,
            afterFit: (s: any) => { s.height = cb - bottom; },
            border: { width: 5, color: '#111', z: 1 },
            grid: { drawOnChartArea: false, tickLength: 10, tickWidth: 3, tickColor: '#222' },
            ticks: { stepSize: 40, autoSkip: false, maxRotation: 0, padding: 14, color: '#555', font: { family: LS, size: 30 }, callback: (v: number) => (v % 200 === 0 ? String(v) : '') },
          },
          y: {
            type: 'linear', min: 0, max: 296,
            afterFit: (s: any) => { s.width = ax - cl; },
            afterBuildTicks: (s: any) => { s.ticks = s.ticks.filter((t: any) => t.value <= 288); },
            border: { width: 4, color: '#222' },
            grid: { drawOnChartArea: false, tickLength: 9, tickWidth: 3, tickColor: '#222' },
            ticks: { stepSize: 12, autoSkip: false, minRotation: 90, maxRotation: 90, crossAlign: 'center', padding: 0, color: '#555', font: { family: LS, size: 30 }, callback: (v: number) => (v % 60 === 0 ? String(v) : '') },
          },
        },
      },
      plugins: [gates, captions(cl, ct, text)],
    }),
  };
}

function flowSpec(name: string, dots: number[], more: number[], halo: number[], core: number[], quad: string[], box: any, titleX: number, piX: number) {
  const cl = box.l - 125, ct = 980, cb = 1850, cr = box.r + 45;
  const frame = {
    id: 'frame',
    afterDatasetsDraw(chart: any) {
      const c = chart.ctx; const a = chart.chartArea; const x = chart.scales.x; const y = chart.scales.y;
      const qx = x.getPixelForValue(Math.pow(10, quadrantLog)), qy = y.getPixelForValue(Math.pow(10, quadrantLog));
      c.save(); c.strokeStyle = '#333'; c.lineWidth = 3.5;
      c.strokeRect(a.left, a.top, a.right - a.left, a.bottom - a.top);
      c.lineWidth = 3;
      c.beginPath(); c.moveTo(qx, a.top); c.lineTo(qx, a.bottom); c.moveTo(a.left, qy); c.lineTo(a.right, qy); c.stroke();
      c.restore();
    },
  };
  const f = `46px ${LS}`;
  const text: TextItem[] = [
    { t: name, x: titleX, y: 1019, font: `bold 56px ${NS}` },
    { t: 'Annexin V-FITC', x: titleX, y: 1816, font: `bold 45px ${NS}` },
    { t: 'PI', x: piX, y: 1405, font: `bold 48px ${NS}`, rot: true },
    { t: quad[0], x: box.l + 4, y: 1099, font: f, align: 'left' },
    { t: quad[1], x: box.l + 4, y: 1145, font: f, align: 'left' },
    { t: quad[2], x: box.r - 3, y: 1099, font: f, align: 'right' },
    { t: quad[3], x: box.r - 5, y: 1151, font: f, align: 'right' },
    { t: quad[4], x: box.l + 3, y: 1484, font: f, align: 'left' },
    { t: quad[5], x: box.l + 2, y: 1530, font: f, align: 'left' },
    { t: quad[6], x: box.r - 3, y: 1481, font: f, align: 'right' },
    { t: quad[7], x: box.r - 5, y: 1533, font: f, align: 'right' },
  ];
  const axisCommon = {
    type: 'logarithmic', min: 1, max: 10000,
    afterBuildTicks: (s: any) => { s.ticks = logTicks.map((value) => ({ value })); },
    border: { display: false },
    grid: { drawOnChartArea: false, tickLength: 9, tickWidth: 2.5, tickColor: '#333' },
  };
  const tickFont = { family: LS, size: 32 };
  return {
    l: cl, t: ct, w: cr - cl, h: cb - ct,
    make: () => ({
      type: 'scatter',
      data: {
        datasets: [
          { label: name + ' core', data: logPairs(core), backgroundColor: '#000', pointRadius: 23, pointBorderWidth: 0 },
          { label: name + ' halo', data: logPairs(halo), backgroundColor: '#000', pointStyle: 'rect', pointRadius: 3.6, pointBorderWidth: 0 },
          { label: name, data: logPairs(dots.concat(more)), backgroundColor: '#111', pointStyle: 'rect', pointRadius: 2.4, pointBorderWidth: 0 },
        ],
      },
      options: {
        animation: false, responsive: false, devicePixelRatio: 1,
        layout: { padding: { top: box.t - ct, right: cr - box.r } },
        plugins: { legend: { display: false }, tooltip: { enabled: false } },
        scales: {
          x: {
            ...axisCommon,
            afterFit: (s: any) => { s.height = cb - box.b; },
            ticks: { autoSkip: false, maxRotation: 0, padding: 12, color: '#444', font: tickFont, callback: (v: number) => logMajor[v] || '' },
          },
          y: {
            ...axisCommon,
            afterFit: (s: any) => { s.width = box.l - cl; },
            ticks: { autoSkip: false, minRotation: 90, maxRotation: 90, crossAlign: 'center', padding: 0, color: '#444', font: tickFont, callback: (v: number) => logMajor[v] || '' },
          },
        },
      },
      plugins: [frame, captions(cl, ct, text)],
    }),
  };
}

function blotSpec() {
  const cl = 2220, ct = 1950, cr = 3300, cb = 2500;
  const plot = { l: 2548, r: 3091, t: 2097.5, b: 2448.5 };
  const laneHalf = [55, 52, 53];
  const blur = {
    id: 'blotFrames',
    beforeDatasetsDraw(chart: any) {
      const c = chart.ctx; const y = chart.scales.y; const x = chart.scales.x;
      c.save();
      blotRows.forEach((_, r) => {
        const p = y.getPixelForValue(r);
        c.fillStyle = blotBackground[r];
        c.fillRect(plot.l - cl, p - 38.5, plot.r - plot.l, 77);
      });
      c.restore();
      c.save(); c.fillStyle = '#2a2a2a';
      groups.forEach((_, i) => c.fillRect(x.getPixelForValue(i) - laneHalf[i], 2057 - ct - 3, laneHalf[i] * 2, 7));
      c.restore();
    },
    beforeDatasetDraw(chart: any) { chart.ctx.save(); chart.ctx.filter = 'blur(6px)'; },
    afterDatasetDraw(chart: any) { chart.ctx.restore(); },
    afterDatasetsDraw(chart: any) {
      const c = chart.ctx; const y = chart.scales.y;
      c.save(); c.strokeStyle = '#2f2f2f'; c.lineWidth = 4;
      blotRows.forEach((_, r) => {
        const p = y.getPixelForValue(r);
        c.strokeRect(plot.l - cl, p - 38.5, plot.r - plot.l, 77);
      });
      c.restore();
    },
  };
  const band = (label: string, data: number[][], alpha: number[]) => ({
    label, data, barThickness: 30, grouped: false, borderWidth: 0,
    backgroundColor: alpha.map((a) => `rgba(0,0,0,${a})`),
  });
  return {
    l: cl, t: ct, w: cr - cl, h: cb - ct,
    make: () => ({
      type: 'bar',
      data: { labels: blotRows, datasets: [band('SC', bandSC, bandAlphaSC), band('XAV', bandXAV, bandAlphaXAV), band('CHIR', bandCHIR, bandAlphaCHIR)] },
      options: {
        animation: false, responsive: false, devicePixelRatio: 1, indexAxis: 'y',
        layout: { padding: { bottom: cb - plot.b } },
        plugins: { legend: { display: false }, tooltip: { enabled: false } },
        scales: {
          x: {
            type: 'linear', position: 'top', min: -0.414, max: 2.505,
            afterFit: (s: any) => { s.height = plot.t - ct; },
            afterBuildTicks: (s: any) => { s.ticks = [0, 1, 2].map((value) => ({ value })); },
            border: { display: false }, grid: { display: false },
            ticks: { autoSkip: false, maxRotation: 0, padding: 68, color: '#000', font: { family: LS, size: 54, weight: 'bold' }, callback: (v: number) => groups[v] },
          },
          y: {
            type: 'category', position: 'left', labels: blotRows, offset: true,
            afterFit: (s: any) => { s.width = plot.l - cl; },
            border: { display: false }, grid: { display: false },
            ticks: { autoSkip: false, crossAlign: 'center', padding: 36, color: '#000', font: { family: LS, size: 66, weight: 'bold' } },
          },
          yk: {
            type: 'category', position: 'right', labels: blotKda, offset: true,
            afterFit: (s: any) => { s.width = cr - plot.r; },
            border: { display: false }, grid: { display: false },
            ticks: { autoSkip: false, padding: 18, color: '#000', font: { family: LS, size: 46 } },
          },
        },
      },
      plugins: [blur],
    }),
  };
}

const specs = [
  histSpec('SC', histSC, 180, 520, 96),
  histSpec('XAV', histXAV, 1047, 1385, 964),
  histSpec('CHIR', histCHIR, 1914, 2255, 1831),
  barSpec({
    cl: 2740, titleX: 3395, titleY: 140, titleSize: 50, title: 'Cell cycle', plot: { l: 2905.5, t: 223, r: 3884, b: 778 },
    categories: phases, yMin: 0, yMax: 80, yTicks: [0, 20, 40, 60, 80], yTitle: '% of cells', yTitleX: 2794,
    tickSize: 42, catSize: 41, tickLen: 17, xPad: 5, yPad: 4, catPct: 0.819, barPct: 0.708, bw: 6, capHalf: 17, letterSize: 52,
    legend: { x: 3683, y: 242, box: [64, 36], pad: 17 },
    datasets: [
      series('SC', 0, cycleSC, cycleErrSC, cycleLetSC, cycleLetAtSC),
      series('XAV', 1, cycleXAV, cycleErrXAV, cycleLetXAV, cycleLetAtXAV),
      series('CHIR', 2, cycleCHIR, cycleErrCHIR, cycleLetCHIR, cycleLetAtCHIR),
    ],
  }),
  flowSpec('SC', dotsSC, moreSC, haloSC, coreSC, quadSC, { l: 203, t: 1073, r: 868, b: 1720 }, 509, 104),
  flowSpec('XAV', dotsXAV, moreXAV, haloXAV, coreXAV, quadXAV, { l: 1072, t: 1073, r: 1737, b: 1722 }, 1380, 976),
  flowSpec('CHIR', dotsCHIR, moreCHIR, haloCHIR, coreCHIR, quadCHIR, { l: 1950, t: 1073, r: 2611, b: 1722 }, 2255, 1849),
  barSpec({
    cl: 2740, titleX: 3574, titleY: 1019, titleSize: 50, title: 'Apoptosis', plot: { l: 2925, t: 1097, r: 4241, b: 1786.6 }, broken: true,
    categories: apoCats, yMin: 0, yMax: 100, yTicks: apoTicks, yTitle: '% of cells', yTitleX: 2792,
    tickSize: 38, catSize: 30, tickLen: 15, xPad: 0, yPad: 9, catPct: 0.808, barPct: 0.746, bw: 6, capHalf: 15, letterSize: 50,
    legend: { x: 4032, y: 1096, box: [66, 33], pad: 12 },
    datasets: [
      series('SC', 0, apoSC, apoErrSC, apoLetSC, apoLetAtSC),
      series('XAV', 1, apoXAV, apoErrXAV, apoLetXAV, apoLetAtXAV),
      series('CHIR', 2, apoCHIR, apoErrCHIR, apoLetCHIR, apoLetAtCHIR),
    ],
  }),
  barSpec({
    cl: 70, titleX: 669, titleY: 2011, titleSize: 44, title: 'Bax protein expression', plot: { l: 260, t: 2093, r: 1090, b: 2645.5 },
    categories: groups, yMin: 0, yMax: 0.2, yTicks: [0, 0.05, 0.1, 0.15, 0.2], decimals: 2, yTitle: 'Bax/GAPDH', yTitleX: 118,
    tickSize: 40, catSize: 41, tickLen: 17, xPad: 1, yPad: 4, catPct: 1, barPct: 0.575, bw: 7, capHalf: 40, letterSize: 52,
    datasets: [single(baxValues, baxErr, baxLetters, baxLetterAt)],
  }),
  barSpec({
    cl: 1130, titleX: 1731, titleY: 2011, titleSize: 44, title: 'Bcl-2 protein expression', plot: { l: 1309, t: 2091.4, r: 2138, b: 2644.8 },
    categories: groups, yMin: 0, yMax: 1.5, yTicks: [0, 0.5, 1, 1.5], decimals: 1, yTitle: 'Bcl-2/GAPDH', yTitleX: 1190,
    tickSize: 40, catSize: 41, tickLen: 16, xPad: 1, yPad: 9, catPct: 1, barPct: 0.575, bw: 7, capHalf: 40, letterSize: 52,
    datasets: [single(bclValues, bclErr, bclLetters, bclLetterAt)],
  }),
  blotSpec(),
  barSpec({
    cl: 3300, titleX: 3856, titleY: 2008, titleSize: 44, title: 'Bcl-2/Bax ratio', plot: { l: 3454, t: 2091.5, r: 4284, b: 2642.7 },
    categories: groups, yMin: 0, yMax: 15, yTicks: [0, 5, 10, 15], yTitle: 'Bcl-2/Bax', yTitleX: 3345,
    tickSize: 40, catSize: 41, tickLen: 17, xPad: 1, yPad: 5, catPct: 1, barPct: 0.575, bw: 7, capHalf: 40, letterSize: 52,
    datasets: [single(ratioValues, ratioErr, ratioLetters, ratioLetterAt)],
  }),
];

const panelLetters = [
  { t: 'A', x: 32, y: 53 }, { t: 'B', x: 2711, y: 54 }, { t: 'C', x: 36, y: 941 }, { t: 'D', x: 2711, y: 941 },
  { t: 'E', x: 35, y: 1907 }, { t: 'F', x: 2207, y: 1907 }, { t: 'G', x: 3264, y: 1927 },
];

function Panel({ spec }: { spec: any }) {
  const ref = useRef<HTMLCanvasElement>(null);
  useEffect(() => {
    const chart = new Chart(ref.current as any, spec.make());
    return () => chart.destroy();
  }, []);
  return <canvas ref={ref} width={spec.w} height={spec.h} style={{ position: 'absolute', left: spec.l, top: spec.t, width: spec.w, height: spec.h }} />;
}

export default function App() {
  // The browser window may be narrower than the requested 4307px; fit the figure to it.
  const sx = Math.min(1, window.innerWidth / 4307);
  return (
    <div style={{ position: 'absolute', left: 0, top: 0, width: 4307, height: 2723, overflow: 'hidden', background: '#fff', transform: `scale(${sx}, 1)`, transformOrigin: '0 0' }}>
      {specs.map((s, i) => <Panel key={i} spec={s} />)}
      {panelLetters.map((p) => (
        <div key={p.t} style={{ position: 'absolute', left: p.x, top: p.y - 35, font: `bold 66px ${NS}`, lineHeight: '66px', color: '#000' }}>{p.t}</div>
      ))}
    </div>
  );
}
